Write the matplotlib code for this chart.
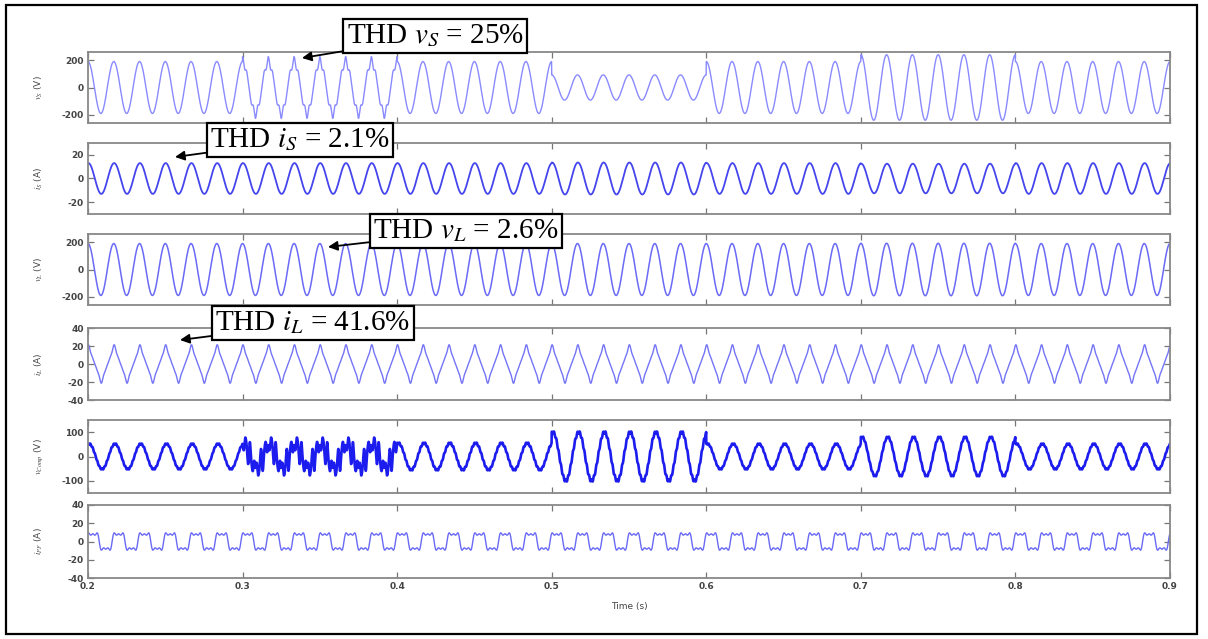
import numpy as np
import matplotlib.pyplot as plt
from matplotlib.patches import Rectangle

plt.rcParams['mathtext.fontset'] = 'stix'

# time segments (s) and per-segment waveform parameters
seg_edges = [0.2, 0.3, 0.4, 0.5, 0.6, 0.7, 0.8, 0.9]
f_line = 60.0

vs_amp = [190, 190, 190, 92, 190, 240, 190]
vs_h5 = [0, 22, 0, 0, 0, 0, 0]
vs_h7 = [0, 14, 0, 0, 0, 0, 0]

is_amp = [13, 13, 13, 13.5, 13, 12.5, 13]

vl_amp = [190, 190, 190, 190, 190, 192, 190]

il_amp = [17, 17, 17, 17, 17, 17, 17]
il_h3 = [2.6, 2.6, 2.6, 2.6, 2.6, 2.6, 2.6]
il_h5 = [1.2, 1.2, 1.2, 1.2, 1.2, 1.2, 1.2]
il_h7 = [0.6, 0.6, 0.6, 0.6, 0.6, 0.6, 0.6]

vc_amp = [52, 48, 55, 100, 52, 80, 52]
vc_h5 = [0, -30, 0, 0, 0, 0, 0]
vc_h7 = [0, 22, 0, 0, 0, 0, 0]
vc_h11 = [3, 9, 4, 6, 3, 4, 3]

ipf_amp = [10, 10, 10, 10, 10, 10, 10]
ipf_h3 = [3.5, 3.5, 3.5, 3.5, 3.5, 3.5, 3.5]
ipf_h5 = [2.0, 2.0, 2.0, 2.0, 2.0, 2.0, 2.0]

ylabels = ['$v_S$ (V)', '$i_S$ (A)', '$v_L$ (V)', '$i_L$ (A)', '$v_{Comp}$ (V)', '$i_{PF}$ (A)']
yticks = [[-200, 0, 200], [-20, 0, 20], [-200, 0, 200],
          [-40, -20, 0, 20, 40], [-100, 0, 100], [-40, -20, 0, 20, 40]]
ylims = [(-260, 260), (-30, 30), (-260, 260), (-40, 40), (-150, 150), (-40, 40)]
xticks = [0.2, 0.3, 0.4, 0.5, 0.6, 0.7, 0.8, 0.9]

notes = ['THD $v_S$ = 25%', 'THD $i_S$ = 2.1%', 'THD $v_L$ = 2.6%', 'THD $i_L$ = 41.6%']


def seg(values, idx):
    return np.asarray(values, dtype=float)[idx]


t = np.linspace(0.2, 0.9, 8401)
th = 2 * np.pi * f_line * t
idx = np.clip(np.searchsorted(seg_edges, t, side='right') - 1, 0, 6)

vs = seg(vs_amp, idx) * np.cos(th) + seg(vs_h5, idx) * np.cos(5 * th) + seg(vs_h7, idx) * np.cos(7 * th)
i_s = seg(is_amp, idx) * np.cos(th - 0.1)
vl = seg(vl_amp, idx) * np.cos(th)
il = (seg(il_amp, idx) * np.cos(th - 0.1) + seg(il_h3, idx) * np.cos(3 * (th - 0.1))
      + seg(il_h5, idx) * np.cos(5 * (th - 0.1)) + seg(il_h7, idx) * np.cos(7 * (th - 0.1)))
vc = (seg(vc_amp, idx) * np.cos(th - 0.3) + seg(vc_h5, idx) * np.cos(5 * th)
      + seg(vc_h7, idx) * np.cos(7 * th) + seg(vc_h11, idx) * np.cos(11 * th))
ipf = (seg(ipf_amp, idx) * np.sin(th + 0.4) + seg(ipf_h3, idx) * np.sin(3 * (th + 0.4))
       + seg(ipf_h5, idx) * np.sin(5 * (th + 0.4)))

signals = [vs, i_s, vl, il, vc, ipf]
colors = ['#8a8aff', '#4545ee', '#6a6af6', '#7474f6', '#1c1cee', '#6a6af6']
widths = [1.0, 1.3, 1.1, 1.0, 1.9, 1.0]

W, H = 1208, 639
fig = plt.figure(figsize=(W / 100, H / 100), dpi=100)

# panel extents in pixels (top, bottom)
rows = [(52, 123), (143, 214), (234, 305), (328, 400), (420, 493), (505, 578)]
x0, x1 = 88, 1170

for k, (top, bot) in enumerate(rows):
    ax = fig.add_axes([x0 / W, 1 - bot / H, (x1 - x0) / W, (bot - top) / H])
    ax.plot(t, signals[k], color=colors[k], lw=widths[k])
    ax.set_xlim(0.2, 0.9)
    ax.set_ylim(*ylims[k])
    ax.set_yticks(yticks[k])
    ax.set_yticklabels([str(v) for v in yticks[k]], fontsize=6.5, fontweight='bold', color='#444444')
    ax.set_xticks(xticks)
    if k == len(rows) - 1:
        ax.set_xticklabels([f'{v:.1f}' for v in xticks], fontsize=6.5, fontweight='bold', color='#444444')
        ax.set_xlabel('Time (s)', fontsize=6.5, color='#444444', labelpad=8)
    else:
        ax.set_xticklabels([])
    ax.tick_params(direction='in', top=True, right=True, length=4, width=0.9, colors='#777777',
                   labelcolor='#444444', pad=3)
    for s in ax.spines.values():
        s.set_color('#888888')
        s.set_linewidth(1.3)
    ax.set_ylabel(ylabels[k], fontsize=6.5, color='#444444')
    ax.yaxis.set_label_coords(-0.04, 0.5)

# annotation boxes: centre of box and arrow tip (pixels from top-left)
boxes = [((435, 36), (302, 58)), ((300, 140), (175, 157)),
         ((466, 231), (328, 247)), ((313, 323), (180, 340))]
for text, (c, tip) in zip(notes, boxes):
    fig.add_artist(plt.Annotation(
        text, xy=(tip[0], H - tip[1]), xycoords='figure pixels',
        xytext=(c[0], H - c[1]), textcoords='figure pixels',
        ha='center', va='center', fontsize=21, family='Liberation Serif',
        bbox=dict(boxstyle='square,pad=0.12', fc='white', ec='black', lw=1.6),
        arrowprops=dict(arrowstyle='-|>', color='black', lw=1.3, mutation_scale=14,
                        shrinkA=0, shrinkB=0)))

fig.add_artist(Rectangle((6 / W, 1 - 634 / H), (1197 - 6) / W, (634 - 5) / H,
                         transform=fig.transFigure, fill=False, ec='black', lw=1.6))

fig.savefig('out.png', dpi=100)
